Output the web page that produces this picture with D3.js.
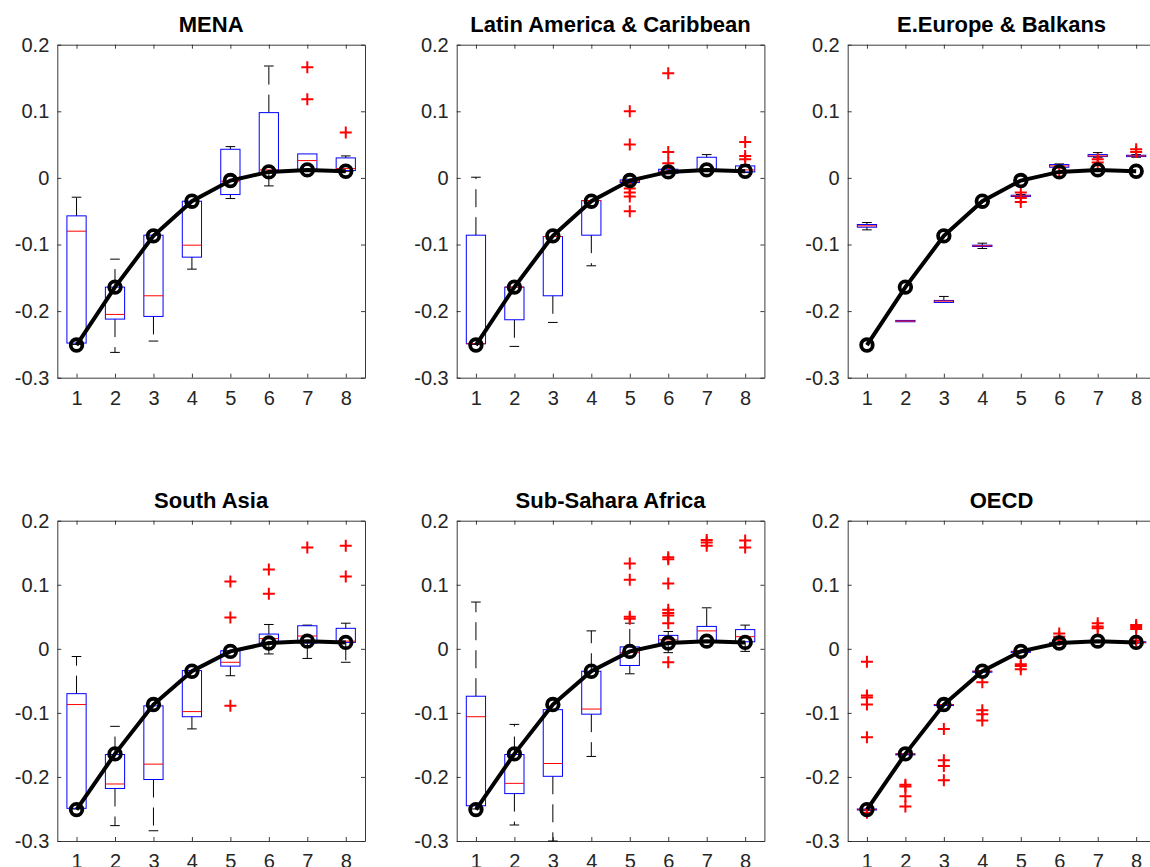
<!DOCTYPE html>
<html>
<head>
  <meta charset="UTF-8" />
  <title>Boxplots by region</title>
  <script src="https://d3js.org/d3.v7.min.js"></script>
  <style>
    body { margin: 0; overflow: hidden; background: #fff; }
    text { font-family: "Liberation Sans", Arial, Helvetica, sans-serif; }
  </style>
</head>
<body>
  <div id="chart"></div>

  <script>
    // x categories and y ticks
    const steps = [1, 2, 3, 4, 5, 6, 7, 8];
    const yTicks = [0.2, 0.1, 0, -0.1, -0.2, -0.3];
    const yTickLabels = ["0.2", "0.1", "0", "-0.1", "-0.2", "-0.3"];
    const titles = ["MENA", "Latin America & Caribbean", "E.Europe & Balkans",
      "South Asia", "Sub-Sahara Africa", "OECD"];

    // black line with circles (same in every panel)
    const meanLine = [-0.251, -0.164, -0.087, -0.035, -0.004, 0.009, 0.012, 0.010];

    // boxes: [lower whisker, q1, median, q3, upper whisker]
    const menaBoxes = [
      [-0.250, -0.248, -0.080, -0.057, -0.029],
      [-0.262, -0.212, -0.205, -0.164, -0.122],
      [-0.245, -0.208, -0.177, -0.086, -0.086],
      [-0.137, -0.119, -0.101, -0.035, -0.035],
      [-0.031, -0.025, -0.005, 0.043, 0.047],
      [-0.012, 0.008, 0.012, 0.098, 0.168],
      [0.010, 0.012, 0.026, 0.036, 0.036],
      [0.010, 0.011, 0.014, 0.030, 0.033]
    ];
    const menaOutliers = [[7, 0.166], [7, 0.118], [8, 0.068]];

    const latinBoxes = [
      [-0.250, -0.249, -0.249, -0.086, 0.001],
      [-0.253, -0.213, -0.164, -0.164, -0.164],
      [-0.217, -0.177, -0.088, -0.088, -0.088],
      [-0.132, -0.086, -0.034, -0.034, -0.034],
      [-0.008, -0.007, -0.005, -0.003, -0.002],
      [0.006, 0.007, 0.010, 0.013, 0.014],
      [0.010, 0.011, 0.013, 0.031, 0.035],
      [0.008, 0.009, 0.012, 0.018, 0.020]
    ];
    const latinOutliers = [[5, 0.100], [5, 0.050], [5, -0.016], [5, -0.022], [5, -0.028],
      [5, -0.050], [6, 0.157], [6, 0.039], [6, 0.022], [8, 0.054], [8, 0.033], [8, 0.028]];

    const eeuropeBoxes = [
      [-0.078, -0.074, -0.072, -0.070, -0.067],
      [-0.216, -0.216, -0.215, -0.214, -0.214],
      [-0.187, -0.187, -0.185, -0.184, -0.178],
      [-0.106, -0.103, -0.102, -0.101, -0.098],
      [-0.028, -0.028, -0.027, -0.026, -0.025],
      [0.015, 0.016, 0.018, 0.020, 0.021],
      [0.031, 0.032, 0.033, 0.035, 0.038],
      [0.031, 0.032, 0.033, 0.034, 0.035]
    ];
    const eeuropeOutliers = [[5, -0.022], [5, -0.030], [5, -0.036], [6, 0.008],
      [7, 0.023], [7, 0.028], [8, 0.043], [8, 0.039]];

    const southAsiaBoxes = [
      [-0.250, -0.249, -0.087, -0.070, -0.012],
      [-0.276, -0.218, -0.211, -0.165, -0.121],
      [-0.284, -0.204, -0.180, -0.089, -0.089],
      [-0.125, -0.106, -0.098, -0.034, -0.034],
      [-0.042, -0.027, -0.021, -0.003, -0.003],
      [-0.008, 0.009, 0.016, 0.023, 0.038],
      [-0.015, 0.009, 0.020, 0.036, 0.037],
      [-0.021, 0.010, 0.012, 0.032, 0.040]
    ];
    const southAsiaOutliers = [[5, 0.105], [5, 0.049], [5, -0.089], [6, 0.124], [6, 0.086],
      [7, 0.158], [8, 0.161], [8, 0.113]];

    const ssaBoxes = [
      [-0.250, -0.245, -0.106, -0.074, 0.073],
      [-0.275, -0.226, -0.210, -0.165, -0.118],
      [-0.300, -0.199, -0.179, -0.095, -0.095],
      [-0.168, -0.102, -0.094, -0.035, 0.028],
      [-0.039, -0.026, -0.006, 0.003, 0.040],
      [-0.006, 0.009, 0.014, 0.021, 0.027],
      [0.012, 0.013, 0.028, 0.035, 0.064],
      [-0.004, 0.011, 0.019, 0.030, 0.037]
    ];
    const ssaOutliers = [[5, 0.133], [5, 0.108], [5, 0.050], [5, 0.047],
      [6, 0.143], [6, 0.140], [6, 0.102], [6, 0.061], [6, 0.056], [6, 0.052], [6, 0.040], [6, -0.021],
      [7, 0.170], [7, 0.166], [7, 0.161], [8, 0.169], [8, 0.158]];

    const oecdBoxes = [
      [-0.252, -0.251, -0.251, -0.250, -0.250],
      [-0.165, -0.165, -0.164, -0.164, -0.164],
      [-0.088, -0.088, -0.087, -0.087, -0.087],
      [-0.036, -0.035, -0.035, -0.035, -0.034],
      [-0.006, -0.005, -0.004, -0.004, -0.003],
      [0.008, 0.009, 0.009, 0.010, 0.010],
      [0.011, 0.012, 0.012, 0.013, 0.013],
      [0.009, 0.010, 0.010, 0.011, 0.011]
    ];
    const oecdOutliers = [[1, -0.020], [1, -0.073], [1, -0.076], [1, -0.087], [1, -0.138], [1, -0.256],
      [2, -0.212], [2, -0.215], [2, -0.230], [2, -0.246],
      [3, -0.125], [3, -0.174], [3, -0.183], [3, -0.205],
      [4, -0.052], [4, -0.096], [4, -0.102], [4, -0.112],
      [5, -0.024], [5, -0.027], [5, -0.032],
      [6, 0.024], [6, 0.019], [6, 0.014],
      [7, 0.040], [7, 0.035], [7, 0.032],
      [8, 0.037], [8, 0.034], [8, 0.031], [8, 0.013]];

    const allBoxes = [menaBoxes, latinBoxes, eeuropeBoxes, southAsiaBoxes, ssaBoxes, oecdBoxes];
    const allOutliers = [menaOutliers, latinOutliers, eeuropeOutliers, southAsiaOutliers, ssaOutliers, oecdOutliers];

    // layout
    const colX = [57.3, 456.7, 847.7];
    const rowY = [44.7, 520.7];
    const rowH = [333, 320.3];
    const panelW = 307.7;

    const svg = d3.select("#chart")
      .append("svg")
      .attr("width", 1150)
      .attr("height", 867);

    titles.forEach((title, i) => {
      const col = i % 3, row = Math.floor(i / 3);
      const W = panelW, H = rowH[row];
      const boxes = allBoxes[i];
      const outliers = allOutliers[i];

      const g = svg.append("g")
        .attr("transform", "translate(" + colX[col] + "," + rowY[row] + ")");

      const x = d3.scaleLinear().domain([0.5, 8.5]).range([0, W]);
      const y = d3.scaleLinear().domain([-0.3, 0.2]).range([H, 0]);

      // axes, box on, ticks pointing in
      const axisColor = "#262626";
      g.append("g").attr("class", "y-axis")
        .call(d3.axisLeft(y).tickValues(yTicks).tickSizeInner(-4).tickSizeOuter(0)
          .tickPadding(8).tickFormat((d, k) => yTickLabels[k]));
      g.append("g").attr("class", "y-axis-r")
        .attr("transform", "translate(" + W + ",0)")
        .call(d3.axisRight(y).tickValues(yTicks).tickSizeInner(-4).tickSizeOuter(0).tickFormat(""));
      g.append("g").attr("class", "x-axis")
        .attr("transform", "translate(0," + H + ")")
        .call(d3.axisBottom(x).tickValues(steps).tickSizeInner(-4).tickSizeOuter(0)
          .tickPadding(13).tickFormat(d3.format("d")));
      g.append("g").attr("class", "x-axis-t")
        .call(d3.axisTop(x).tickValues(steps).tickSizeInner(-4).tickSizeOuter(0).tickFormat(""));

      g.selectAll(".domain, .tick line").attr("stroke", axisColor).attr("stroke-width", 0.9);
      g.selectAll(".tick text")
        .attr("fill", axisColor)
        .style("font-size", "20px");

      // title
      g.append("text")
        .attr("x", W / 2)
        .attr("y", -12.4)
        .attr("text-anchor", "middle")
        .style("font-size", "22px")
        .style("font-weight", "bold")
        .attr("fill", "#000")
        .text(title);

      const bw = x(1.25) - x(0.75);
      const cw = x(1.125) - x(0.875);

      // whiskers
      const wk = g.append("g");
      boxes.forEach((b, k) => {
        const cx = x(steps[k]);
        [[b[3], b[4]], [b[1], b[0]]].forEach(pair => {
          if (Math.abs(pair[1] - pair[0]) < 0.0005) return;
          wk.append("line")
            .attr("x1", cx).attr("x2", cx)
            .attr("y1", y(pair[0])).attr("y2", y(pair[1]))
            .attr("stroke", "#000").attr("stroke-width", 1)
            .attr("stroke-dasharray", "18,10");
          wk.append("line")
            .attr("x1", cx - cw / 2).attr("x2", cx + cw / 2)
            .attr("y1", y(pair[1])).attr("y2", y(pair[1]))
            .attr("stroke", "#000").attr("stroke-width", 1);
        });
      });

      // boxes
      g.selectAll("rect.box")
        .data(boxes)
        .enter()
        .append("rect")
        .attr("class", "box")
        .attr("x", (d, k) => x(steps[k]) - bw / 2)
        .attr("y", d => y(d[3]))
        .attr("width", bw)
        .attr("height", d => Math.max(y(d[1]) - y(d[3]), 1))
        .attr("fill", "none")
        .attr("stroke", "#0000ff")
        .attr("stroke-width", 1);

      // medians
      g.selectAll("line.median")
        .data(boxes)
        .enter()
        .append("line")
        .attr("class", "median")
        .attr("x1", (d, k) => x(steps[k]) - bw / 2)
        .attr("x2", (d, k) => x(steps[k]) + bw / 2)
        .attr("y1", d => y(d[2]))
        .attr("y2", d => y(d[2]))
        .attr("stroke", "#ff0000")
        .attr("stroke-width", 1);

      // outliers
      g.selectAll("path.outlier")
        .data(outliers)
        .enter()
        .append("path")
        .attr("class", "outlier")
        .attr("d", "M-6,0H6M0,-6V6")
        .attr("transform", d => "translate(" + x(d[0]) + "," + y(d[1]) + ")")
        .attr("stroke", "#ff0000")
        .attr("stroke-width", 2)
        .attr("fill", "none");

      // black line with circles
      const line = d3.line()
        .x((d, k) => x(steps[k]))
        .y(d => y(d));
      g.append("path")
        .datum(meanLine)
        .attr("d", line)
        .attr("fill", "none")
        .attr("stroke", "#000")
        .attr("stroke-width", 4);
      g.selectAll("circle.mean")
        .data(meanLine)
        .enter()
        .append("circle")
        .attr("class", "mean")
        .attr("cx", (d, k) => x(steps[k]))
        .attr("cy", d => y(d))
        .attr("r", 5.8)
        .attr("fill", "none")
        .attr("stroke", "#000")
        .attr("stroke-width", 3.8);
    });
  </script>
</body>
</html>
